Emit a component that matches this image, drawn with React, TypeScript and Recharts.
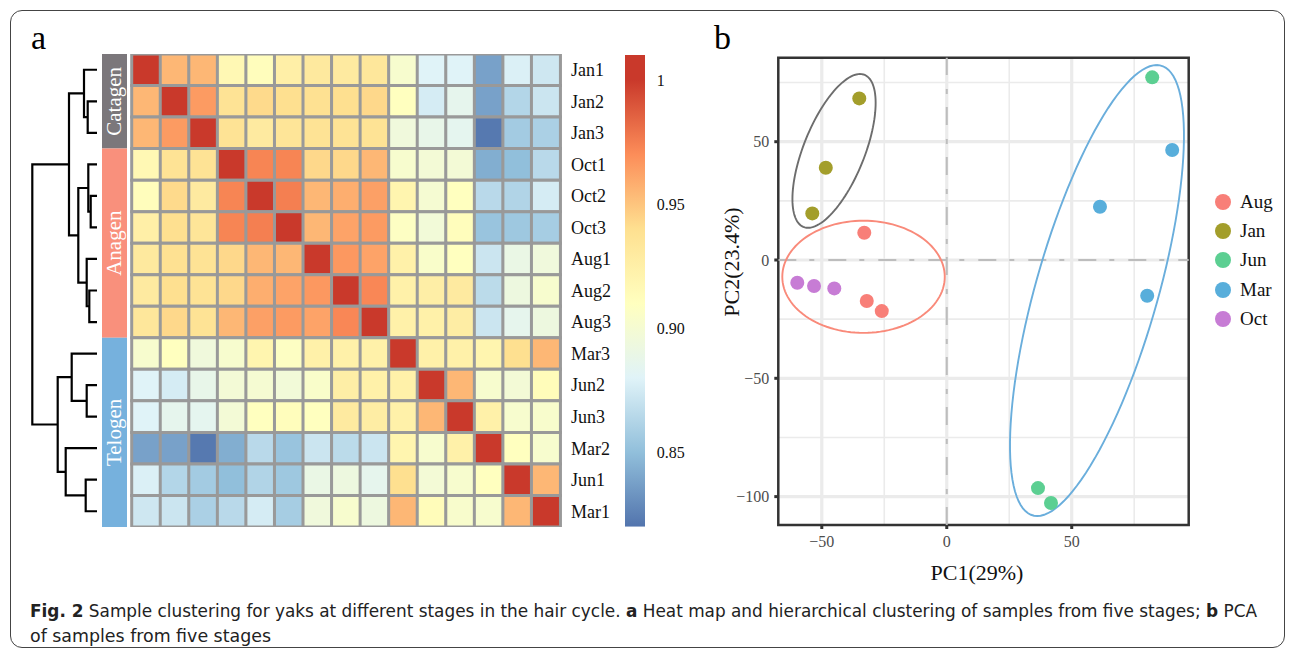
import React from "react"
import { BarChart, Bar, Cell, XAxis, YAxis, ScatterChart, Scatter, CartesianGrid, ReferenceLine, ReferenceArea, Legend } from "recharts"

// ---- heat map data (rows/cols in clustered order) ----
const sampleNames = ["Jan1", "Jan2", "Jan3", "Oct1", "Oct2", "Oct3", "Aug1", "Aug2", "Aug3", "Mar3", "Jun2", "Jun3", "Mar2", "Jun1", "Mar1"]

const rJan1 = [1, 0.955, 0.955, 0.917, 0.912, 0.925, 0.931, 0.930, 0.933, 0.902, 0.880, 0.880, 0.838, 0.878, 0.873]
const rJan2 = [0.955, 1, 0.965, 0.937, 0.942, 0.940, 0.939, 0.940, 0.943, 0.910, 0.876, 0.886, 0.838, 0.863, 0.872]
const rJan3 = [0.955, 0.965, 1, 0.937, 0.930, 0.935, 0.937, 0.937, 0.937, 0.895, 0.888, 0.885, 0.822, 0.857, 0.860]
const rOct1 = [0.917, 0.937, 0.937, 1, 0.973, 0.973, 0.943, 0.943, 0.955, 0.902, 0.898, 0.898, 0.843, 0.850, 0.865]
const rOct2 = [0.912, 0.942, 0.930, 0.973, 1, 0.975, 0.955, 0.958, 0.963, 0.920, 0.900, 0.910, 0.865, 0.862, 0.876]
const rOct3 = [0.925, 0.940, 0.935, 0.973, 0.975, 1, 0.955, 0.962, 0.965, 0.908, 0.897, 0.912, 0.853, 0.855, 0.858]
const rAug1 = [0.931, 0.939, 0.937, 0.943, 0.955, 0.955, 1, 0.966, 0.962, 0.924, 0.904, 0.910, 0.872, 0.890, 0.895]
const rAug2 = [0.930, 0.940, 0.937, 0.943, 0.958, 0.962, 0.966, 1, 0.972, 0.924, 0.926, 0.930, 0.866, 0.893, 0.902]
const rAug3 = [0.933, 0.943, 0.937, 0.955, 0.963, 0.965, 0.962, 0.972, 1, 0.924, 0.924, 0.927, 0.872, 0.886, 0.893]
const rMar3 = [0.902, 0.910, 0.895, 0.902, 0.920, 0.908, 0.924, 0.924, 0.924, 1, 0.924, 0.924, 0.920, 0.940, 0.955]
const rJun2 = [0.880, 0.876, 0.888, 0.898, 0.900, 0.897, 0.904, 0.926, 0.924, 0.924, 1, 0.955, 0.902, 0.898, 0.913]
const rJun3 = [0.880, 0.886, 0.885, 0.898, 0.910, 0.912, 0.910, 0.930, 0.927, 0.924, 0.955, 1, 0.924, 0.902, 0.903]
const rMar2 = [0.838, 0.838, 0.822, 0.843, 0.865, 0.853, 0.872, 0.866, 0.872, 0.920, 0.902, 0.924, 1, 0.910, 0.902]
const rJun1 = [0.878, 0.863, 0.857, 0.850, 0.862, 0.855, 0.890, 0.893, 0.886, 0.940, 0.898, 0.902, 0.910, 1, 0.955]
const rMar1 = [0.873, 0.872, 0.860, 0.865, 0.876, 0.858, 0.895, 0.902, 0.893, 0.955, 0.913, 0.903, 0.902, 0.955, 1]
const corr = [rJan1, rJan2, rJan3, rOct1, rOct2, rOct3, rAug1, rAug2, rAug3, rMar3, rJun2, rJun3, rMar2, rJun1, rMar1]

// colour scale (reversed RdYlBu)
const paletteValues = [0.82, 0.85, 0.88, 0.91, 0.94, 0.97, 1.0]
const paletteColors = ["#5274ad", "#91bfdb", "#e0f3f8", "#ffffbf", "#fee090", "#fc8d59", "#c9392b"]

// colour bar
const colorbarRange = [0.8201, 1.010]
const colorbarTicks = [0.85, 0.9, 0.95, 1]

// stage annotation
const stageNames = ["Catagen", "Anagen", "Telogen"]
const stageSizes = [3, 6, 6]
const stageColors = ["#7b777b", "#f9907c", "#76b1dd"]

// dendrogram merges (node ids: 0-14 leaves, 15+ merges in order)
const mergeLeft = [1, 0, 4, 3, 7, 6, 18, 16, 10, 9, 13, 12, 24, 22]
const mergeRight = [2, 15, 5, 17, 8, 19, 20, 21, 11, 23, 14, 25, 26, 27]
const mergeHeight = [9.3, 13, 6.3, 8.7, 7.7, 10.3, 18.7, 28, 10.3, 25.3, 11.3, 31.3, 39.3, 64.7]

// ---- PCA data ----
const groupNames = ["Aug", "Jan", "Jun", "Mar", "Oct"]
const groupColors = ["#f87f78", "#a39e2b", "#5ccf92", "#58aedb", "#c77cd5"]
const augPC1 = [-33.0, -32.0, -26.0]
const augPC2 = [11.5, -17.3, -21.6]
const janPC1 = [-35.0, -48.4, -53.8]
const janPC2 = [68.3, 39.0, 19.7]
const junPC1 = [82.2, 36.5, 41.7]
const junPC2 = [77.2, -96.4, -102.7]
const marPC1 = [90.2, 61.3, 80.2]
const marPC2 = [46.5, 22.5, -15.1]
const octPC1 = [-59.8, -53.1, -45.0]
const octPC2 = [-9.6, -11.0, -12.0]
const groupPC1 = [augPC1, janPC1, junPC1, marPC1, octPC1]
const groupPC2 = [augPC2, janPC2, junPC2, marPC2, octPC2]

// confidence ellipses: centre, conjugate half-axes
const ellipseColors = ["#6d6d6d", "#f98a7a", "#6aaedc"]
const ellipseCenters = [[-45.1, 46.1], [-33.3, -7.1], [60.1, -12.9]]
const ellipseAxisU = [[10.4, 32.5], [0, 23.7], [23.9, 95.3]]
const ellipseAxisV = [[13.0, 0], [32.5, 0], [25.3, 0]]

const pcaXDomain = [-67.4, 96.8]
const pcaYDomain = [-112, 85.5]
const pcaXMajor = [-50, 0, 50]
const pcaXMinor = [-25, 25, 75]
const pcaYMajor = [-100, -50, 0, 50]
const pcaYMinor = [-75, -25, 25, 75]

const serif = "'Liberation Serif', 'Times New Roman', serif"

const hexToRgb = (h: string) => [1, 3, 5].map(i => parseInt(h.slice(i, i + 2), 16))
const colorFor = (v: number) => {
    if (v <= paletteValues[0]) return paletteColors[0]
    const last = paletteValues.length - 1
    if (v >= paletteValues[last]) return paletteColors[last]
    let i = 0
    while (v > paletteValues[i + 1]) i++
    const t = (v - paletteValues[i]) / (paletteValues[i + 1] - paletteValues[i])
    const a = hexToRgb(paletteColors[i])
    const b = hexToRgb(paletteColors[i + 1])
    const c = a.map((x, k) => Math.round(x + (b[k] - x) * t))
    return `rgb(${c[0]},${c[1]},${c[2]})`
}

const columnData = sampleNames.map((name) => {
    const row: Record<string, any> = { name }
    sampleNames.forEach((_, r) => { row[`r${r}`] = 1 })
    return row
})
const rowTicks = sampleNames.map((_, i) => i + 0.5)

// dendrogram segments
const nodeY: number[] = sampleNames.map((_, i) => i)
const nodeH: number[] = sampleNames.map(() => 0)
const dendroSegments = mergeLeft.map((a, k) => {
    const b = mergeRight[k]
    const h = mergeHeight[k]
    nodeY.push((nodeY[a] + nodeY[b]) / 2)
    nodeH.push(h)
    return [
        { h: nodeH[a], y: nodeY[a] },
        { h, y: nodeY[a] },
        { h, y: nodeY[b] },
        { h: nodeH[b], y: nodeY[b] },
    ]
})

const stageRow: Record<string, any> = { k: "stage" }
stageNames.forEach((s, i) => { stageRow[s] = stageSizes[i] })

const colorbarData = [{ k: "bar", range: colorbarRange }]
// gradient stops top (offset 0) -> bottom (offset 1)
const gradientStops = [
    { offset: 0, color: colorFor(colorbarRange[1]) },
    ...paletteValues.map((v, i) => ({ offset: (colorbarRange[1] - v) / (colorbarRange[1] - colorbarRange[0]), color: paletteColors[i] })).reverse(),
    { offset: 1, color: colorFor(colorbarRange[0]) },
]

const ellipsePaths = ellipseCenters.map((c, e) => {
    const pts = []
    for (let i = 0; i <= 120; i++) {
        const t = (i / 120) * Math.PI * 2
        pts.push({
            x: c[0] + ellipseAxisU[e][0] * Math.cos(t) + ellipseAxisV[e][0] * Math.sin(t),
            y: c[1] + ellipseAxisU[e][1] * Math.cos(t) + ellipseAxisV[e][1] * Math.sin(t),
        })
    }
    return pts
})

const pointData = groupNames.map((_, g) => groupPC1[g].map((x, i) => ({ x, y: groupPC2[g][i] })))

const minusFmt = (v: number) => (v < 0 ? `\u2212${-v}` : `${v}`)
const noDot = () => <g />

const stageLabel = (name: string) => (props: any) => {
    const cx = Number(props.x) + Number(props.width) / 2
    const cy = Number(props.y) + Number(props.height) / 2
    return (
        <text x={cx} y={cy} transform={`rotate(-90 ${cx} ${cy})`} textAnchor="middle" dominantBaseline="central"
            fill="#fff" fontSize={21} fontFamily={serif}>{name}</text>
    )
}

const renderLegend = () => (
    <div style={{ fontFamily: serif, fontSize: 19, color: "#111" }}>
        {groupNames.map((g, i) => (
            <div key={g} style={{ display: "flex", alignItems: "center", height: 29.3 }}>
                <span style={{ width: 16, height: 16, borderRadius: 8, background: groupColors[i], display: "inline-block" }} />
                <span style={{ marginLeft: 9 }}>{g}</span>
            </div>
        ))}
    </div>
)

export default function App() {
    const abs = (left: number, top: number): React.CSSProperties => ({ position: "absolute", left, top })
    return (
        <div style={{ position: "absolute", left: 0, top: 0, width: 1295, height: 653, background: "#fff", overflow: "hidden", fontFamily: serif }}>
            <div style={{ position: "absolute", left: 10, top: 10, width: 1273, height: 636, border: "1.5px solid #444", borderRadius: 12 }} />

            <svg width={0} height={0} style={{ position: "absolute" }}>
                <defs>
                    <linearGradient id="cbarGrad" x1="0" y1="0" x2="0" y2="1">
                        {gradientStops.map((s, i) => (
                            <stop key={i} offset={s.offset} stopColor={s.color} />
                        ))}
                    </linearGradient>
                </defs>
            </svg>

            {/* panel letters */}
            <div style={{ ...abs(31, 20), fontFamily: serif, fontSize: 34, lineHeight: "36px" }}>a</div>
            <div style={{ ...abs(714, 20), fontFamily: serif, fontSize: 34, lineHeight: "36px" }}>b</div>

            {/* dendrogram */}
            <div style={abs(27, 40)}>
                <ScatterChart width={70} height={500} margin={{ top: 14, right: 0, bottom: 13, left: 0 }}>
                    <XAxis type="number" dataKey="h" domain={[0, 70]} reversed hide allowDataOverflow />
                    <YAxis type="number" dataKey="y" domain={[-0.5, 14.5]} reversed hide allowDataOverflow />
                    {dendroSegments.map((seg, k) => (
                        <Scatter key={k} data={seg} line={{ stroke: "#000", strokeWidth: 2.2 }} shape={noDot} isAnimationActive={false} />
                    ))}
                </ScatterChart>
            </div>

            {/* stage annotation */}
            <div style={abs(102, 40)}>
                <BarChart width={25} height={500} data={[stageRow]} margin={{ top: 14, right: 0, bottom: 13, left: 0 }} barCategoryGap={0} barGap={0}>
                    <XAxis dataKey="k" hide />
                    <YAxis type="number" domain={[0, 15]} reversed hide allowDataOverflow />
                    {stageNames.map((s, i) => (
                        <Bar key={s} dataKey={s} stackId="s" fill={stageColors[i]} isAnimationActive={false} label={stageLabel(s)} />
                    ))}
                </BarChart>
            </div>

            {/* heat map */}
            <div style={abs(120, 40)}>
                <BarChart width={520} height={500} data={columnData} margin={{ top: 14, right: 0, bottom: 13, left: 11.7 }} barCategoryGap={0} barGap={0}>
                    <XAxis dataKey="name" hide />
                    <YAxis orientation="right" type="number" domain={[0, 15]} reversed allowDataOverflow ticks={rowTicks} interval={0}
                        tickFormatter={(v: number) => sampleNames[Math.floor(v)]} width={80} axisLine={false} tickLine={false}
                        tickSize={0} tickMargin={11} tick={{ fill: "#111", fontSize: 18, fontFamily: serif }} />
                    {sampleNames.map((_, r) => (
                        <Bar key={r} dataKey={`r${r}`} stackId="m" isAnimationActive={false}>
                            {sampleNames.map((__, c) => (
                                <Cell key={c} fill={colorFor(corr[r][c])} stroke="#999" strokeWidth={3} />
                            ))}
                        </Bar>
                    ))}
                </BarChart>
            </div>

            {/* colour bar */}
            <div style={abs(600, 40)}>
                <BarChart width={100} height={500} data={colorbarData} margin={{ top: 15, right: 0, bottom: 13.3, left: 25 }} barCategoryGap={0}>
                    <XAxis dataKey="k" hide />
                    <YAxis orientation="right" type="number" domain={colorbarRange} allowDataOverflow ticks={colorbarTicks} interval={0}
                        width={55} axisLine={false} tickLine={false} tickSize={0} tickMargin={11.7}
                        tickFormatter={(v: number) => (v === 1 ? "1" : v.toFixed(2))}
                        tick={{ fill: "#111", fontSize: 16, fontFamily: serif }} />
                    <Bar dataKey="range" fill="url(#cbarGrad)" isAnimationActive={false} />
                </BarChart>
            </div>

            {/* PCA */}
            <div style={abs(700, 40)}>
                <ScatterChart width={595} height={540} margin={{ top: 17.7, right: 106.3, bottom: 25, left: 18.3 }}>
                    <CartesianGrid horizontalValues={pcaYMinor} verticalValues={pcaXMinor} stroke="#ebebeb" strokeWidth={1.6} />
                    <CartesianGrid horizontalValues={pcaYMajor} verticalValues={pcaXMajor} stroke="#ebebeb" strokeWidth={3.2} />
                    <XAxis type="number" dataKey="x" domain={pcaXDomain} allowDataOverflow ticks={pcaXMajor} interval={0} height={30}
                        tickFormatter={minusFmt} axisLine={false} tickSize={4} tickMargin={7}
                        tickLine={{ stroke: "#333", strokeWidth: 3 }} tick={{ fill: "#4d4d4d", fontSize: 16, fontFamily: serif }} />
                    <YAxis type="number" dataKey="y" domain={pcaYDomain} allowDataOverflow ticks={pcaYMajor} interval={0} width={60}
                        tickFormatter={minusFmt} axisLine={false} tickSize={4} tickMargin={5}
                        tickLine={{ stroke: "#333", strokeWidth: 3 }} tick={{ fill: "#4d4d4d", fontSize: 16, fontFamily: serif }} />
                    <ReferenceLine x={0} stroke="#bdbdbd" strokeWidth={2} strokeDasharray="18 13 5 14" />
                    <ReferenceLine y={0} stroke="#bdbdbd" strokeWidth={2} strokeDasharray="18 13 5 14" />
                    {ellipsePaths.map((pts, e) => (
                        <Scatter key={`e${e}`} data={pts} line={{ stroke: ellipseColors[e], strokeWidth: 1.9 }} shape={noDot}
                            legendType="none" isAnimationActive={false} />
                    ))}
                    {pointData.map((pts, g) => (
                        <Scatter key={groupNames[g]} name={groupNames[g]} data={pts} fill={groupColors[g]} isAnimationActive={false}
                            shape={(p: any) => <circle cx={p.cx} cy={p.cy} r={7} fill={groupColors[g]} />} />
                    ))}
                    <ReferenceArea x1={pcaXDomain[0]} x2={pcaXDomain[1]} y1={pcaYDomain[0]} y2={pcaYDomain[1]} fill="none" fillOpacity={0}
                        stroke="#333" strokeWidth={2.5} ifOverflow="visible" />
                    <Legend layout="vertical" align="center" verticalAlign="middle" content={renderLegend}
                        wrapperStyle={{ left: 515, top: 147, width: 80, height: 150 }} />
                </ScatterChart>
            </div>

            {/* axis titles */}
            <div style={{ ...abs(977, 573), transform: "translate(-50%, -50%)", fontFamily: serif, fontSize: 22, whiteSpace: "nowrap", color: "#111" }}>PC1(29%)</div>
            <div style={{ ...abs(731.5, 262), transform: "translate(-50%, -50%) rotate(-90deg)", fontFamily: serif, fontSize: 22, whiteSpace: "nowrap", color: "#111" }}>PC2(23.4%)</div>

            {/* caption */}
            <svg style={abs(0, 595)} width={1295} height={55}>
                <text x={30} y={22} fontFamily="'Liberation Sans Narrow', 'DejaVu Sans Condensed', sans-serif" fontSize={17.5} fill="#222"
                    textLength={1227} lengthAdjust="spacingAndGlyphs">
                    <tspan fontWeight="bold">Fig. 2</tspan> Sample clustering for yaks at different stages in the hair cycle. <tspan fontWeight="bold">a</tspan> Heat map and hierarchical clustering of samples from five stages; <tspan fontWeight="bold">b</tspan> PCA
                </text>
                <text x={30} y={47} fontFamily="'Liberation Sans Narrow', 'DejaVu Sans Condensed', sans-serif" fontSize={17.5} fill="#222"
                    textLength={241} lengthAdjust="spacingAndGlyphs">of samples from five stages</text>
            </svg>
        </div>
    )
}
